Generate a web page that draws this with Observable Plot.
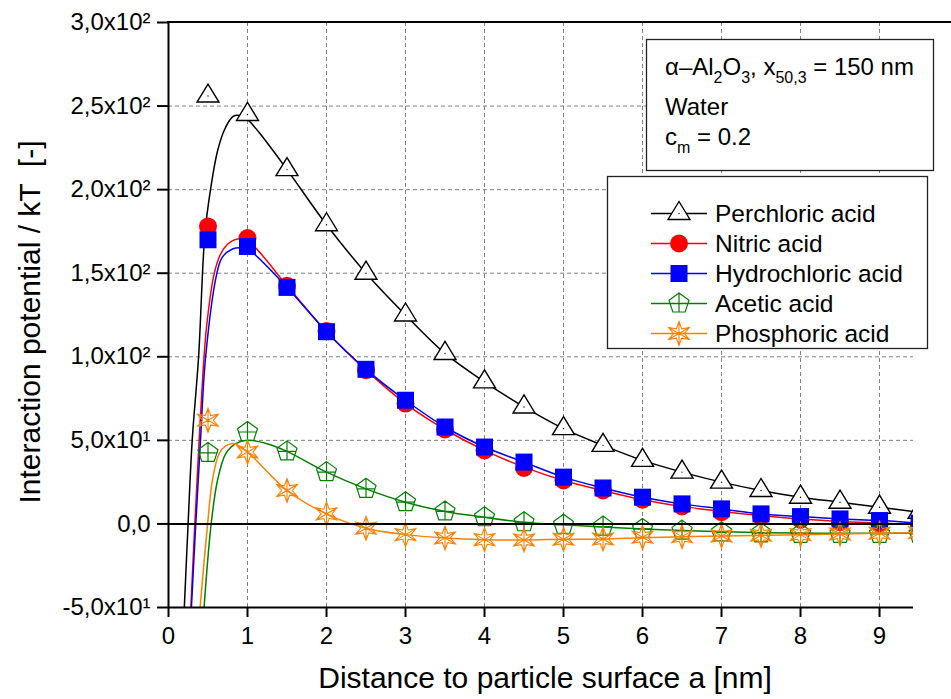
<!DOCTYPE html>
<html><head><meta charset="utf-8">
<script src="https://cdn.jsdelivr.net/npm/d3@7"></script>
<script src="https://cdn.jsdelivr.net/npm/@observablehq/plot@0.6"></script>
<style>
html,body{margin:0;padding:0;background:#fff;}
#chart svg{display:block;}
</style></head><body><div id="chart"></div>
<script>
// ---------- DATA ----------
const seriesNames = ["Perchloric acid", "Nitric acid", "Hydrochloric acid", "Acetic acid", "Phosphoric acid"];

// measured points (markers)
const markerX = [0.5, 1, 1.5, 2, 2.5, 3, 3.5, 4, 4.5, 5, 5.5, 6, 6.5, 7, 7.5, 8, 8.5, 9, 9.5];
const perchloricY   = [256, 245, 212, 179, 150, 125, 102, 85, 70, 57, 47, 38, 31, 25, 20, 16, 13, 10, 7];
const nitricY       = [178, 171, 142.5, 115.5, 92, 72, 56.5, 44, 33.5, 26, 20, 14.5, 10.5, 7, 4.5, 2.5, 1, 0, -1];
const hydrochloricY = [170, 166, 141.5, 115, 92.5, 74, 58, 46, 37, 28, 21.5, 16, 12, 9, 6, 4.4, 3, 2, 0.5];
const aceticY       = [42.5, 55, 43.4, 31, 21, 13, 7.5, 4, 1, -0.5, -1.6, -3, -4, -5, -5.6, -6, -6, -6, -6];
const phosphoricY   = [62, 43, 20, 6, -2.6, -6.4, -8.4, -9.4, -9.6, -9.2, -9, -8, -7.6, -7.2, -6.8, -6.4, -6, -5.6, -5.3];

// model curves (lines)
const perchloricCurveX = [0.2, 0.248, 0.3, 0.381, 0.46, 0.535, 0.62, 0.71, 0.81, 0.86, 0.93, 1.0, 1.15, 1.5, 2, 2.5, 3, 3.5, 4, 4.5, 5, 5.5, 6, 6.5, 7, 7.5, 8, 8.5, 9, 9.5];
const perchloricCurveY = [-50, 0, 50, 100, 173, 201, 223, 236, 243.5, 244.5, 244, 242, 234, 212, 179, 150, 125, 102, 85, 70, 57, 47, 38, 31, 25, 20, 16, 13, 10, 7];

const nitricCurveX = [0.283, 0.333, 0.388, 0.45, 0.49, 0.577, 0.66, 0.75, 0.87, 1.0, 1.5, 2, 2.5, 3, 3.5, 4, 4.5, 5, 5.5, 6, 6.5, 7, 7.5, 8, 8.5, 9, 9.5];
const nitricCurveY = [-50, 0, 50, 100, 121.6, 149.5, 161.5, 167.5, 170.5, 169.5, 142.5, 115, 92, 72, 56.5, 44, 34, 26, 20, 14.5, 10.5, 7.5, 5, 3, 1.5, 0.5, -0.5];

const hydrochloricCurveX = [0.29, 0.345, 0.405, 0.47, 0.61, 0.68, 0.81, 0.9, 1.0, 1.5, 2, 2.5, 3, 3.5, 4, 4.5, 5, 5.5, 6, 6.5, 7, 7.5, 8, 8.5, 9, 9.5];
const hydrochloricCurveY = [-50, 0, 50, 100, 149.5, 159.5, 164.5, 165.2, 164.5, 141.5, 115, 92.5, 74, 58, 46, 37, 28, 21.5, 16, 12, 9, 6, 4.4, 3, 2, 0.5];

const aceticCurveX = [0.45, 0.54, 0.62, 0.725, 0.85, 1.0, 1.25, 1.5, 2, 2.5, 3, 3.5, 4, 4.5, 5, 5.5, 6, 6.5, 7, 7.5, 8, 8.5, 9, 9.5];
const aceticCurveY = [-50, 0, 26, 42, 48, 50, 48, 43.4, 31, 21, 13, 7.5, 4, 1, -0.5, -1.8, -3, -4, -4.7, -5.2, -5.5, -5.6, -5.6, -5.6];

const phosphoricCurveX = [0.40, 0.495, 0.556, 0.64, 0.72, 0.83, 1.0, 1.5, 2, 2.5, 3, 3.5, 4, 4.5, 5, 5.5, 6, 6.5, 7, 7.5, 8, 8.5, 9, 9.5];
const phosphoricCurveY = [-50, 0, 26, 42, 46.5, 48, 43, 20, 6, -2.6, -6.4, -8.4, -9.4, -9.6, -9.2, -9, -8.2, -7.6, -7.2, -6.8, -6.4, -6, -5.6, -5.3];

// axes
const xTicks = [0, 1, 2, 3, 4, 5, 6, 7, 8, 9];
const xTickLabels = ["0", "1", "2", "3", "4", "5", "6", "7", "8", "9"];
const yTicks = [-50, 0, 50, 100, 150, 200, 250, 300];
const yTickLabels = ["-5,0x10\u00B9", "0,0", "5,0x10\u00B9", "1,0x10\u00B2", "1,5x10\u00B2", "2,0x10\u00B2", "2,5x10\u00B2", "3,0x10\u00B2"];
const xGrid = [1, 2, 3, 4, 5, 6, 7, 8, 9];
const yGrid = [50, 100, 150, 200, 250];
const xLabel = "Distance to particle surface a [nm]";
const yLabel = "Interaction potential / kT  [-]";
const infoLine2 = "Water";

// ---------- SYMBOLS ----------
const triSym = {draw(ctx, size) {
  const r = Math.sqrt(size / Math.PI);
  ctx.moveTo(0, -1.333 * r); ctx.lineTo(1.22 * r, 0.667 * r); ctx.lineTo(-1.22 * r, 0.667 * r); ctx.closePath();
}};
const squareSym = {draw(ctx, size) {
  const r = Math.sqrt(size / Math.PI);
  ctx.moveTo(-r, -r); ctx.lineTo(r, -r); ctx.lineTo(r, r); ctx.lineTo(-r, r); ctx.closePath();
}};
const pentSym = {draw(ctx, size) {
  const R = Math.sqrt(size / Math.PI);
  for (let k = 0; k < 5; k++) {
    const a = -Math.PI / 2 + k * 2 * Math.PI / 5;
    const px = R * Math.cos(a), py = R * Math.sin(a);
    if (k === 0) ctx.moveTo(px, py); else ctx.lineTo(px, py);
  }
  ctx.closePath();
  ctx.moveTo(0, -R); ctx.lineTo(0, R * Math.cos(Math.PI / 5));
  ctx.moveTo(-0.851 * R, 0); ctx.lineTo(0.851 * R, 0);
}};
const starSym = {draw(ctx, size) {
  const R = Math.sqrt(size / Math.PI), ri = R * 0.45;
  for (let k = 0; k < 12; k++) {
    const a = -Math.PI / 2 + k * Math.PI / 6;
    const rr = k % 2 === 0 ? R : ri;
    const px = rr * Math.cos(a), py = rr * Math.sin(a);
    if (k === 0) ctx.moveTo(px, py); else ctx.lineTo(px, py);
  }
  ctx.closePath();
  for (let k = 0; k < 3; k++) {
    const a = -Math.PI / 2 + k * Math.PI / 3;
    ctx.moveTo(R * Math.cos(a), R * Math.sin(a));
    ctx.lineTo(-R * Math.cos(a), -R * Math.sin(a));
  }
}};

const styles = [
  {stroke: "#000000", fill: "#ffffff", symbol: triSym, r: 9, sw: 1.4},
  {stroke: "#FF0000", fill: "#FF0000", symbol: "circle", r: 9, sw: 0},
  {stroke: "#0000FF", fill: "#0000FF", symbol: squareSym, r: 8.5, sw: 0},
  {stroke: "#008000", fill: "none", symbol: pentSym, r: 10.5, sw: 1.2},
  {stroke: "#FF8000", fill: "none", symbol: starSym, r: 12, sw: 1.1}
];
const markerYs = [perchloricY, nitricY, hydrochloricY, aceticY, phosphoricY];
const curves = [
  [perchloricCurveX, perchloricCurveY],
  [nitricCurveX, nitricCurveY],
  [hydrochloricCurveX, hydrochloricCurveY],
  [aceticCurveX, aceticCurveY],
  [phosphoricCurveX, phosphoricCurveY]
];

const font = "'Liberation Sans', Arial, Helvetica, sans-serif";

const marks = [
  Plot.ruleX(xGrid, {stroke: "#808080", strokeWidth: 1, strokeDasharray: "4,3"}),
  Plot.ruleY(yGrid, {stroke: "#808080", strokeWidth: 1, strokeDasharray: "4,3"})
];
seriesNames.forEach((name, i) => {
  const st = styles[i];
  const [cx, cy] = curves[i];
  marks.push(Plot.line({length: cx.length}, {x: cx, y: cy, stroke: st.stroke, strokeWidth: 1.5, curve: "catmull-rom", clip: true}));
  marks.push(Plot.dot({length: markerX.length}, {x: markerX, y: markerYs[i], symbol: st.symbol, r: st.r,
    fill: st.fill, stroke: st.stroke, strokeWidth: st.sw, clip: true}));
  if (i === 0) {
    marks.push(Plot.dot({length: markerX.length}, {x: markerX, y: markerYs[i], r: 0.7, fill: "black", stroke: "none", clip: true}));
  }
});
marks.push(
  Plot.ruleY([0], {stroke: "black", strokeWidth: 2}),
  Plot.ruleY([-50], {stroke: "black", strokeWidth: 2}),
  Plot.ruleX([0], {stroke: "black", strokeWidth: 2}),
  Plot.axisX({ticks: xTicks, tickFormat: (d) => xTickLabels[xTicks.indexOf(d)], tickSize: 10, tickPadding: 9,
    fontSize: 24, strokeWidth: 2, label: null}),
  Plot.axisY({ticks: yTicks, tickFormat: (d) => yTickLabels[yTicks.indexOf(d)], tickSize: 11, tickPadding: 7,
    fontSize: 24, strokeWidth: 2, label: null})
);

const plot = Plot.plot({
  width: 951, height: 699,
  marginLeft: 168, marginRight: 38, marginTop: 22, marginBottom: 92,
  x: {domain: [0, 9.43]},
  y: {domain: [-50, 300]},
  style: {fontFamily: font, color: "black", background: "white", overflow: "visible"},
  marks
});
document.getElementById("chart").appendChild(plot);

// ---------- annotations ----------
const svg = d3.select(plot);
const ys = plot.scale("y"), xsS = plot.scale("x");
svg.append("line").attr("x1", xsS.apply(0) - 1).attr("x2", 951).attr("y1", ys.apply(300)).attr("y2", ys.apply(300))
  .attr("stroke", "black").attr("stroke-width", 2);

svg.append("text").attr("transform", "translate(29,322) rotate(-90)").attr("text-anchor", "middle")
  .attr("dominant-baseline", "central").style("font-size", "30px").style("font-family", font).text(yLabel);
svg.append("text").attr("x", 545).attr("y", 688).attr("text-anchor", "middle")
  .style("font-size", "30px").style("font-family", font).text(xLabel);

// info box
svg.append("rect").attr("x", 646.5).attr("y", 39.5).attr("width", 287).attr("height", 131)
  .attr("fill", "white").attr("stroke", "#222").attr("stroke-width", 1.3);
const t1 = svg.append("text").attr("x", 665).attr("y", 75).attr("text-anchor", "start")
  .style("font-size", "24px").style("font-family", font);
const parts = [["\u03B1\u2013Al", 0], ["2", 1], ["O", 0], ["3", 1], [", x", 0], ["50,3", 1], [" = 150 nm", 0]];
let prevSub = 0;
parts.forEach(([s, sub]) => {
  const ts = t1.append("tspan").text(s);
  const dy = (sub ? 8 : 0) - (prevSub ? 8 : 0);
  if (dy) ts.attr("dy", dy);
  if (sub) ts.style("font-size", "16px");
  prevSub = sub;
});
svg.append("text").attr("x", 665).attr("y", 115).attr("text-anchor", "start")
  .style("font-size", "24px").style("font-family", font).text(infoLine2);
const t3 = svg.append("text").attr("x", 665).attr("y", 145).attr("text-anchor", "start")
  .style("font-size", "24px").style("font-family", font);
t3.append("tspan").text("c");
t3.append("tspan").attr("dy", 8).style("font-size", "16px").text("m");
t3.append("tspan").attr("dy", -8).text(" = 0.2");

// legend
svg.append("rect").attr("x", 607.5).attr("y", 176.5).attr("width", 320).attr("height", 172)
  .attr("fill", "white").attr("stroke", "#222").attr("stroke-width", 1.3);
seriesNames.forEach((name, i) => {
  const st = styles[i];
  const cy = 213.5 + 30 * i;
  svg.append("line").attr("x1", 651).attr("x2", 707).attr("y1", cy).attr("y2", cy)
    .attr("stroke", st.stroke).attr("stroke-width", 1.5);
  const sym = typeof st.symbol === "string" ? d3.symbolCircle : st.symbol;
  svg.append("path").attr("transform", `translate(679,${cy})`)
    .attr("d", d3.symbol(sym, st.r * st.r * Math.PI)())
    .attr("fill", st.fill).attr("stroke", st.sw ? st.stroke : "none").attr("stroke-width", st.sw);
  if (i === 0) svg.append("circle").attr("cx", 679).attr("cy", cy).attr("r", 0.7).attr("fill", "black");
  svg.append("text").attr("x", 715).attr("y", cy + 8.5).attr("text-anchor", "start")
    .style("font-size", "24.5px").style("font-family", font).text(name);
});
</script></body></html>
